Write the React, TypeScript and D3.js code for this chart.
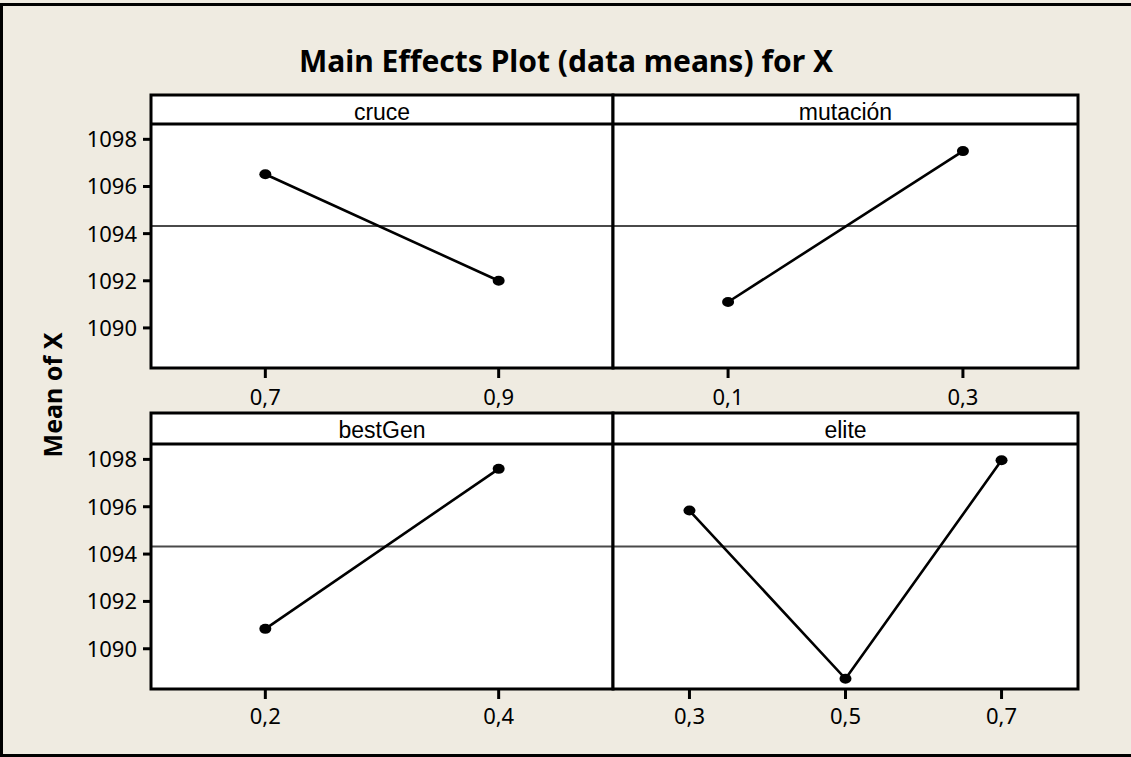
import React from "react";
import * as d3 from "d3";

const title = "Main Effects Plot (data means) for X";
const yLabel = "Mean of X";
const factorNames = ["cruce", "mutación", "bestGen", "elite"];
const cruceLevels = ["0,7", "0,9"];
const cruceMeans = [1096.52, 1092.0];
const mutacionLevels = ["0,1", "0,3"];
const mutacionMeans = [1091.1, 1097.5];
const bestGenLevels = ["0,2", "0,4"];
const bestGenMeans = [1090.84, 1097.6];
const eliteLevels = ["0,3", "0,5", "0,7"];
const eliteMeans = [1095.84, 1088.73, 1097.96];
const yTicks = [1090, 1092, 1094, 1096, 1098];
const grandMean = 1094.32;
const yDomain = [1088.3, 1098.65];

const W = 1131;
const H = 757;
const BG = "#EFEBE1";

const colX = [[151, 613], [613, 1078]];
const rows = [
  { headTop: 95, plotTop: 124, plotBottom: 368, labelY: 405 },
  { headTop: 413, plotTop: 444, plotBottom: 689, labelY: 724 },
];

const panels = [
  { name: factorNames[0], levels: cruceLevels, means: cruceMeans, row: 0, col: 0 },
  { name: factorNames[1], levels: mutacionLevels, means: mutacionMeans, row: 0, col: 1 },
  { name: factorNames[2], levels: bestGenLevels, means: bestGenMeans, row: 1, col: 0 },
  { name: factorNames[3], levels: eliteLevels, means: eliteMeans, row: 1, col: 1 },
];

const tickFont = "'Noto Sans', 'DejaVu Sans', sans-serif";

export default function App() {
  return (
    <svg
      width={W}
      height={H}
      style={{ position: "absolute", left: 0, top: 0, display: "block" }}
    >
      <rect x={0} y={0} width={W} height={H} fill={BG} />
      <rect x={1.5} y={4.5} width={W + 20} height={751} fill="none" stroke="#000" strokeWidth={3} />
      <text
        x={566}
        y={72}
        textAnchor="middle"
        fontFamily={tickFont}
        fontWeight="bold"
        fontSize={30}
        fill="#000"
      >
        {title}
      </text>
      <text
        transform={`translate(62,395) rotate(-90)`}
        textAnchor="middle"
        fontFamily={tickFont}
        fontWeight="bold"
        fontSize={25}
        fill="#000"
      >
        {yLabel}
      </text>
      {panels.map((p, i) => {
        const r = rows[p.row];
        const [x0, x1] = colX[p.col];
        const y = d3.scaleLinear().domain(yDomain).range([r.plotBottom, r.plotTop]);
        const x = d3.scalePoint<string>().domain(p.levels).range([x0, x1]).padding(0.49);
        const line = d3
          .line<number>()
          .x((_, j) => x(p.levels[j]) as number)
          .y((d) => y(d));
        return (
          <g key={i}>
            <rect x={x0} y={r.headTop} width={x1 - x0} height={r.plotBottom - r.headTop} fill="#fff" />
            <line x1={x0} x2={x1} y1={y(grandMean)} y2={y(grandMean)} stroke="#4a4a4a" strokeWidth={2} />
            <path d={line(p.means) || ""} fill="none" stroke="#000" strokeWidth={2.6} />
            {p.means.map((m, j) => (
              <ellipse key={j} cx={x(p.levels[j])} cy={y(m)} rx={6} ry={5} fill="#000" />
            ))}
            <rect
              x={x0}
              y={r.headTop}
              width={x1 - x0}
              height={r.plotBottom - r.headTop}
              fill="none"
              stroke="#000"
              strokeWidth={3}
            />
            <line x1={x0} x2={x1} y1={r.plotTop} y2={r.plotTop} stroke="#000" strokeWidth={3} />
            <text
              x={(x0 + x1) / 2}
              y={r.headTop + 25}
              textAnchor="middle"
              fontFamily="'Liberation Sans', Arial, sans-serif"
              fontSize={23}
              fill="#000"
            >
              {p.name}
            </text>
            {p.levels.map((lv) => (
              <g key={lv}>
                <line
                  x1={x(lv)}
                  x2={x(lv)}
                  y1={r.plotBottom}
                  y2={r.plotBottom + 10}
                  stroke="#000"
                  strokeWidth={3}
                />
                <text
                  x={x(lv)}
                  y={r.labelY}
                  textAnchor="middle"
                  fontFamily={tickFont}
                  fontSize={22}
                  fill="#000"
                >
                  {lv}
                </text>
              </g>
            ))}
            {p.col === 0 &&
              yTicks.map((t) => (
                <g key={t}>
                  <line x1={x0 - 8} x2={x0} y1={y(t)} y2={y(t)} stroke="#000" strokeWidth={3} />
                  <text
                    x={x0 - 14}
                    y={y(t)}
                    dy="0.36em"
                    textAnchor="end"
                    fontFamily={tickFont}
                    fontSize={22}
                    fill="#000"
                  >
                    {t}
                  </text>
                </g>
              ))}
          </g>
        );
      })}
    </svg>
  );
}
